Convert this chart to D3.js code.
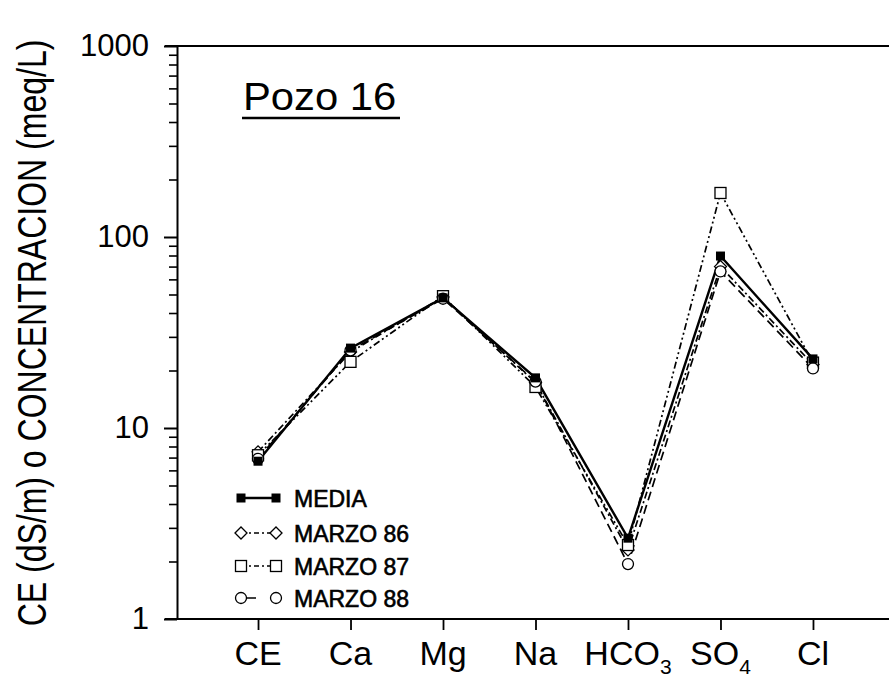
<!DOCTYPE html>
<html>
<head>
<meta charset="utf-8">
<script src="https://cdn.jsdelivr.net/npm/d3@7/dist/d3.min.js"></script>
<style>
  html, body { margin: 0; padding: 0; background: #fff; }
  svg { display: block; font-family: "Liberation Sans", Arial, Helvetica, sans-serif; }
</style>
</head>
<body>
<svg id="chart" width="889" height="684"></svg>
<script>
// ---- data ----
const categories = ["CE", "Ca", "Mg", "Na", "HCO3", "SO4", "Cl"];
const categoryMain = ["CE", "Ca", "Mg", "Na", "HCO", "SO", "Cl"];
const categorySub  = ["", "", "", "", "3", "4", ""];
const media    = [6.7, 26.2, 48, 18.3, 2.65, 79.5, 23.0];
const marzo86  = [7.5, 25.0, 48.5, 17.3, 2.3, 70, 21.5];
const marzo87  = [7.2, 22.2, 49, 16.4, 2.44, 170, 22.0];
const marzo88  = [6.9, 25.5, 47.5, 17.5, 1.94, 66, 20.5];
const seriesNames = ["MEDIA", "MARZO 86", "MARZO 87", "MARZO 88"];
const yTickValues = [1, 10, 100, 1000];
const yTickLabels = ["1", "10", "100", "1000"];
const chartTitle = "Pozo 16";
const yTitle = "CE (dS/m) o CONCENTRACION (meq/L)";

// ---- layout ----
const svg = d3.select("#chart");
const pLeft = 177, pTop = 46, pBottom = 619, pRight = 894;

const x = d3.scalePoint().domain(categories).range([pLeft, pRight]).padding(0.876);
const y = d3.scaleLog().domain([1, 1000]).range([pBottom, pTop]);

const series = [
  { name: seriesNames[1], values: marzo86, dash: "7,3,2,3", marker: "diamond" },
  { name: seriesNames[2], values: marzo87, dash: "7,3,2,3,2,3", marker: "square" },
  { name: seriesNames[3], values: marzo88, dash: "9,5", marker: "circle" },
  { name: seriesNames[0], values: media, dash: null, marker: "filled" }
];

// frame line (top)
svg.append("line").attr("x1", 165).attr("x2", 889).attr("y1", pTop).attr("y2", pTop)
  .attr("stroke", "#000").attr("stroke-width", 2);

// y axis
const minorTicks = [];
for (let e = 0; e < 3; e++) for (let m = 2; m <= 9; m++) minorTicks.push(m * Math.pow(10, e));
const yAxisMinor = d3.axisLeft(y).tickValues(minorTicks).tickSize(8).tickSizeOuter(0).tickFormat("");
const gyMinor = svg.append("g").attr("transform", `translate(${pLeft},0)`).call(yAxisMinor);
gyMinor.select(".domain").attr("stroke-width", 2);
gyMinor.selectAll(".tick line").attr("stroke-width", 1.6);

const yAxis = d3.axisLeft(y).tickValues(yTickValues).tickSize(13).tickPadding(15)
  .tickFormat((d, i) => yTickLabels[i]);
const gy = svg.append("g").attr("transform", `translate(${pLeft},0)`).call(yAxis);
gy.select(".domain").remove();
gy.selectAll(".tick line").attr("stroke-width", 2);
gy.selectAll(".tick text").attr("font-size", 31).attr("fill", "#000")
  .attr("font-family", "Liberation Sans, Arial, sans-serif");

// x axis
const xAxis = d3.axisBottom(x).tickSize(11).tickSizeOuter(0).tickFormat("");
const gx = svg.append("g").attr("transform", `translate(0,${pBottom})`).call(xAxis);
gx.select(".domain").attr("stroke-width", 2).attr("d", `M165,0H${pRight}`);
gx.selectAll(".tick line").attr("stroke-width", 1.8);

// x labels with subscripts
const xl = svg.append("g");
categories.forEach((c, i) => {
  const t = xl.append("text")
    .attr("x", x(c)).attr("y", 665)
    .attr("text-anchor", "middle")
    .attr("font-size", 34).attr("fill", "#000");
  t.append("tspan").text(categoryMain[i]);
  if (categorySub[i]) {
    t.append("tspan").attr("font-size", 21).attr("dy", 9).text(categorySub[i]);
  }
});

// y title (rotated)
svg.append("text")
  .attr("transform", `translate(46,333) rotate(-90) scale(0.8,1)`)
  .attr("text-anchor", "middle")
  .attr("font-size", 40).attr("fill", "#000")
  .text(yTitle);

// title
svg.append("text")
  .attr("transform", `translate(243,110) scale(1.1,1)`)
  .attr("font-size", 38).attr("fill", "#000")
  .text(chartTitle);
svg.append("line").attr("x1", 242).attr("x2", 400).attr("y1", 118).attr("y2", 118)
  .attr("stroke", "#000").attr("stroke-width", 2.5);

// markers
function drawMarker(g, type, cx, cy) {
  if (type === "filled") {
    g.append("rect").attr("x", cx - 4.5).attr("y", cy - 4.5).attr("width", 9).attr("height", 9)
      .attr("fill", "#000");
  } else if (type === "square") {
    g.append("rect").attr("x", cx - 5.5).attr("y", cy - 5.5).attr("width", 11).attr("height", 11)
      .attr("fill", "#fff").attr("stroke", "#000").attr("stroke-width", 1.3);
  } else if (type === "circle") {
    g.append("circle").attr("cx", cx).attr("cy", cy).attr("r", 5.5)
      .attr("fill", "#fff").attr("stroke", "#000").attr("stroke-width", 1.3);
  } else if (type === "diamond") {
    g.append("path").attr("d", `M${cx - 6},${cy}L${cx},${cy - 6}L${cx + 6},${cy}L${cx},${cy + 6}Z`)
      .attr("fill", "#fff").attr("stroke", "#000").attr("stroke-width", 1.3);
  }
}

const line = d3.line().x((d, i) => x(categories[i])).y(d => y(d));
const plot = svg.append("g");
series.forEach(s => {
  const p = plot.append("path").datum(s.values)
    .attr("d", line).attr("fill", "none").attr("stroke", "#000")
    .attr("stroke-width", s.marker === "filled" ? 2.4 : 1.7);
  if (s.dash) p.attr("stroke-dasharray", s.dash);
});
series.forEach(s => {
  const g = plot.append("g");
  s.values.forEach((v, i) => drawMarker(g, s.marker, x(categories[i]), y(v)));
});

// legend
const legendOrder = [series[3], series[0], series[1], series[2]];
const legendY = [498, 533, 566, 598];
const lg = svg.append("g");
legendOrder.forEach((s, i) => {
  const cy = legendY[i];
  const l = lg.append("line").attr("x1", 241).attr("x2", 276).attr("y1", cy).attr("y2", cy)
    .attr("stroke", "#000").attr("stroke-width", s.marker === "filled" ? 2.4 : 1.7);
  if (s.dash) l.attr("stroke-dasharray", s.marker === "circle" ? "0,6,9,30" : "5,3,2,3");
  drawMarker(lg, s.marker, 241, cy);
  drawMarker(lg, s.marker, 276, cy);
  lg.append("text").attr("x", 294).attr("y", cy + 9).attr("font-size", 23).attr("fill", "#000")
    .attr("stroke", "#000").attr("stroke-width", 0.6)
    .text(s.name);
});
</script>
</body>
</html>
